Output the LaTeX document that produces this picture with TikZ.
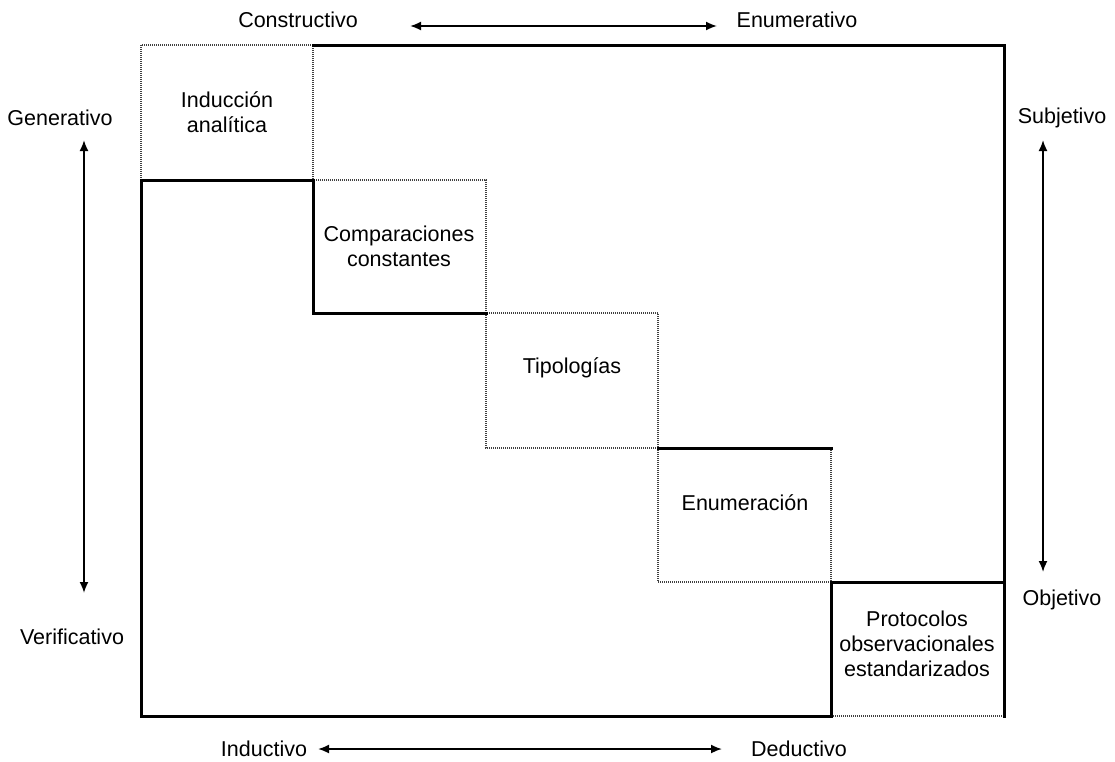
\documentclass[tikz,border=0pt]{standalone}
\usepackage{fontspec}
\setmainfont{Liberation Sans}
\usetikzlibrary{arrows.meta}
\begin{document}
\begin{tikzpicture}[x=1pt,y=-1pt,
  thickline/.style={line width=3pt,line cap=rect,line join=miter},
  dotline/.style={line width=1.1pt,draw=black!75,dash pattern=on 1pt off 1pt},
  axisarrow/.style={line width=1.8pt,{Latex[length=11pt,width=9pt]}-{Latex[length=11pt,width=9pt]}},
  lbl/.style={font=\fontsize{21.5}{25}\selectfont,inner sep=0pt},
  boxlbl/.style={font=\fontsize{21.5}{25}\selectfont,align=center,inner sep=0pt}]
\useasboundingbox (0,0) rectangle (1115,761);
% dotted cells
\draw[dotline] (141,45) rectangle (313,180);
\draw[dotline] (313,180) rectangle (486,313);
\draw[dotline] (486,313) rectangle (658,448);
\draw[dotline] (658,448) rectangle (831,582);
\draw[dotline] (831,582) rectangle (1004,716);
% thick boundaries
\draw[thickline] (486,313) -- (313,313) -- (313,180) -- (141,180) -- (141,716) -- (831,716) -- (831,582) -- (1004,582);
\draw[thickline] (658,448) -- (831,448);
\draw[thickline] (313,45) -- (1004,45) -- (1004,716);
% cell labels
\node[boxlbl] (ind) at (227,112) {Inducción\\analítica};
\node[boxlbl] (comp) at (399,246) {Comparaciones\\constantes};
\node[boxlbl] (tip) at (572,368) {Tipologías};
\node[boxlbl] (enu) at (745,503) {Enumeración};
\node[boxlbl] (prot) at (917,644) {Protocolos\\observacionales\\estandarizados};
% axis labels
\node[lbl] (cons) at (298,20) {Constructivo};
\node[lbl] (enum) at (797,20) {Enumerativo};
\node[lbl] (gen) at (60,118) {Generativo};
\node[lbl] (ver) at (72,637) {Verificativo};
\node[lbl] (sub) at (1062,118) {Subjetivo};
\node[lbl] (obj) at (1062,600) {Objetivo};
\node[lbl] (indu) at (264,749) {Inductivo};
\node[lbl] (ded) at (799,749) {Deductivo};
% axis arrows
\coordinate (t1) at (410,26); \coordinate (t2) at (717,26);
\coordinate (b1) at (318,749); \coordinate (b2) at (722,749);
\coordinate (l1) at (84,140); \coordinate (l2) at (84,593);
\coordinate (r1) at (1043,140); \coordinate (r2) at (1043,572);
\draw[axisarrow] (t1) -- (t2);
\draw[axisarrow] (b1) -- (b2);
\draw[axisarrow] (l1) -- (l2);
\draw[axisarrow] (r1) -- (r2);
\end{tikzpicture}
\end{document}
